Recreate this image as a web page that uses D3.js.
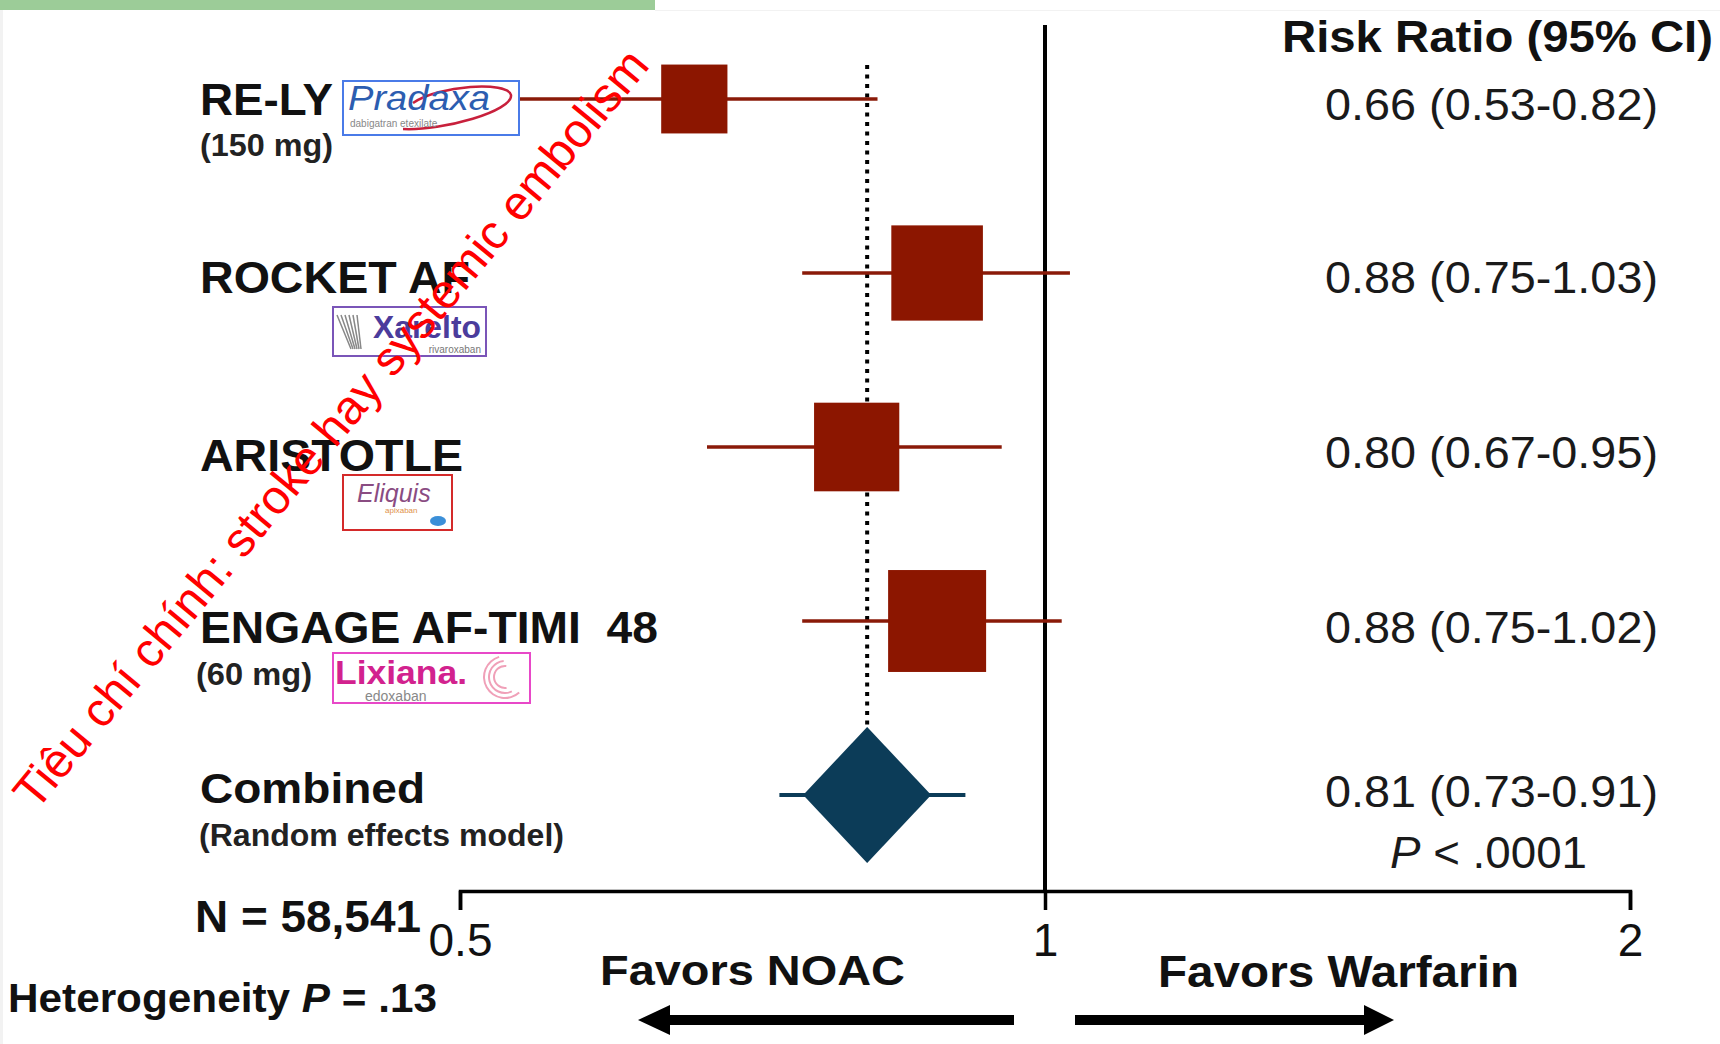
<!DOCTYPE html>
<html>
<head>
<meta charset="utf-8">
<script src="https://cdn.jsdelivr.net/npm/d3@7"></script>
<style>
  html, body { margin: 0; padding: 0; background: #fff; }
  svg { display: block; font-family: "Liberation Sans", Arial, sans-serif; }
</style>
</head>
<body>
<div id="chart"></div>
<script>
// data
const trials = ["RE-LY", "ROCKET AF", "ARISTOTLE", "ENGAGE AF-TIMI  48", "Combined"];
const subLabels = ["(150 mg)", "", "", "(60 mg)", "(Random effects model)"];
const riskRatio = [0.66, 0.88, 0.80, 0.88, 0.81];
const ciLower = [0.53, 0.75, 0.67, 0.75, 0.73];
const ciUpper = [0.82, 1.03, 0.95, 1.02, 0.91];
const weights = [14.8, 28.3, 24.5, 32.4];
const brands = ["Pradaxa", "Xarelto", "Eliquis", "Lixiana"];
const brandGeneric = ["dabigatran etexilate", "rivaroxaban", "apixaban", "edoxaban"];
const axisTicks = [0.5, 1, 2];
const overallP = ".0001";
const sampleSize = "58,541";
const heterogeneityP = ".13";

const W = 1720, H = 1044;
const svg = d3.select("#chart").append("svg").attr("width", W).attr("height", H);

const x = d3.scaleLog().base(2).domain([0.5, 2]).range([460, 1630]);
const y = d3.scaleLinear().domain([0, 4]).range([99, 795]);
const side = d3.scaleSqrt().domain([0, d3.max(weights)]).range([0, 98]);
const f2 = d3.format(".2f");

const squareColor = "#8c1600";
const diamondColor = "#0c3c58";
const axisY = 891;

// top strip
svg.append("rect").attr("x", 0).attr("y", 0).attr("width", 655).attr("height", 10).attr("fill", "#9ccc98");
svg.append("line").attr("x1", 655).attr("x2", W).attr("y1", 10.5).attr("y2", 10.5).attr("stroke", "#f2f2f2");
svg.append("line").attr("x1", 1.5).attr("x2", 1.5).attr("y1", 10).attr("y2", H).attr("stroke", "#f2f2f2").attr("stroke-width", 3);

// x axis (log scale)
const axis = svg.append("g")
    .attr("transform", `translate(0,${axisY})`)
    .call(d3.axisBottom(x).tickValues(axisTicks).tickFormat(d3.format("")).tickSize(19).tickSizeOuter(19).tickPadding(13));
axis.select(".domain").attr("stroke", "#000").attr("stroke-width", 3.5).attr("fill", "none");
axis.selectAll(".tick line").attr("stroke", "#000").attr("stroke-width", 3.5);
axis.selectAll(".tick text").attr("font-size", 46).attr("fill", "#111")
    .attr("font-family", "Liberation Sans, Arial, sans-serif");

// line of no effect and pooled estimate
svg.append("line")
    .attr("x1", x(1)).attr("x2", x(1)).attr("y1", 25).attr("y2", axisY)
    .attr("stroke", "#000").attr("stroke-width", 4);

const pooled = riskRatio[4];
svg.append("line")
    .attr("x1", x(pooled)).attr("x2", x(pooled)).attr("y1", 65).attr("y2", y(4) - 68)
    .attr("stroke", "#000").attr("stroke-width", 4).attr("stroke-dasharray", "4,5.5");

// trial rows
const rows = d3.range(4);
svg.selectAll("line.ci").data(rows).enter().append("line")
    .attr("class", "ci")
    .attr("x1", i => x(ciLower[i])).attr("x2", i => x(ciUpper[i]))
    .attr("y1", i => y(i)).attr("y2", i => y(i))
    .attr("stroke", "#8a1a08").attr("stroke-width", 3.5);

svg.selectAll("rect.sq").data(rows).enter().append("rect")
    .attr("class", "sq")
    .attr("x", i => x(riskRatio[i]) - side(weights[i]) / 2)
    .attr("y", i => y(i) - side(weights[i]) * 1.04 / 2)
    .attr("width", i => side(weights[i]))
    .attr("height", i => side(weights[i]) * 1.04)
    .attr("fill", squareColor);

// combined diamond
svg.append("line")
    .attr("x1", x(ciLower[4])).attr("x2", x(ciUpper[4]))
    .attr("y1", y(4)).attr("y2", y(4))
    .attr("stroke", diamondColor).attr("stroke-width", 4);
const cx = x(pooled), cy = y(4);
svg.append("path")
    .attr("d", `M${cx - 64},${cy} L${cx},${cy - 68} L${cx + 64},${cy} L${cx},${cy + 68} Z`)
    .attr("fill", diamondColor);

// left column labels
const nameY = [115, 293, 471, 643, 803];
const nameW = [133, 270, 263, 458, 225];
const subY = [156, 0, 0, 685, 846];
const subX = [200, 0, 0, 196, 199];
const subW = [133, 0, 0, 116, 365];

svg.selectAll("text.name").data(trials).enter().append("text")
    .attr("class", "name")
    .attr("x", 200).attr("y", (d, i) => nameY[i])
    .attr("font-size", (d, i) => i === 4 ? 42 : 45).attr("font-weight", "bold").attr("fill", "#111")
    .attr("textLength", (d, i) => nameW[i]).attr("lengthAdjust", "spacingAndGlyphs")
    .style("white-space", "pre")
    .text(d => d);

svg.selectAll("text.sub").data(subLabels.map((s, i) => ({ s, i })).filter(d => d.s)).enter().append("text")
    .attr("class", "sub")
    .attr("x", d => subX[d.i]).attr("y", d => subY[d.i])
    .attr("font-size", 31).attr("font-weight", "bold").attr("fill", "#222")
    .attr("textLength", d => subW[d.i]).attr("lengthAdjust", "spacingAndGlyphs")
    .text(d => d.s);

// right column values
svg.append("text").attr("x", 1282).attr("y", 52)
    .attr("font-size", 44).attr("font-weight", "bold").attr("fill", "#111")
    .attr("textLength", 431).attr("lengthAdjust", "spacingAndGlyphs")
    .text("Risk Ratio (95% CI)");

const valueY = [120, 293, 468, 643, 807];
svg.selectAll("text.val").data(riskRatio).enter().append("text")
    .attr("class", "val")
    .attr("x", 1325).attr("y", (d, i) => valueY[i])
    .attr("font-size", 45).attr("fill", "#1a1a1a")
    .attr("textLength", 333).attr("lengthAdjust", "spacingAndGlyphs")
    .text((d, i) => `${f2(d)} (${f2(ciLower[i])}-${f2(ciUpper[i])})`);

const pText = svg.append("text").attr("x", 1390).attr("y", 868)
    .attr("font-size", 44).attr("fill", "#1a1a1a")
    .attr("textLength", 197).attr("lengthAdjust", "spacingAndGlyphs");
pText.append("tspan").attr("font-style", "italic").text("P");
pText.append("tspan").text(" < " + overallP);

// bottom notes
svg.append("text").attr("x", 195).attr("y", 932)
    .attr("font-size", 44).attr("font-weight", "bold").attr("fill", "#111")
    .attr("textLength", 226).attr("lengthAdjust", "spacingAndGlyphs")
    .text("N = " + sampleSize);

const het = svg.append("text").attr("x", 8).attr("y", 1012)
    .attr("font-size", 41).attr("font-weight", "bold").attr("fill", "#111")
    .attr("textLength", 429).attr("lengthAdjust", "spacingAndGlyphs");
het.append("tspan").text("Heterogeneity ");
het.append("tspan").attr("font-style", "italic").text("P");
het.append("tspan").text(" = " + heterogeneityP);

svg.append("text").attr("x", 600).attr("y", 985)
    .attr("font-size", 43).attr("font-weight", "bold").attr("fill", "#111")
    .attr("textLength", 305).attr("lengthAdjust", "spacingAndGlyphs")
    .text("Favors NOAC");
svg.append("text").attr("x", 1158).attr("y", 987)
    .attr("font-size", 44).attr("font-weight", "bold").attr("fill", "#111")
    .attr("textLength", 361).attr("lengthAdjust", "spacingAndGlyphs")
    .text("Favors Warfarin");

// arrows
const arrowY = 1020;
svg.append("path")
    .attr("d", `M638,${arrowY} L670,${arrowY - 15} L670,${arrowY - 5} L1014,${arrowY - 5} L1014,${arrowY + 5} L670,${arrowY + 5} L670,${arrowY + 15} Z`)
    .attr("fill", "#000");
svg.append("path")
    .attr("d", `M1394,${arrowY} L1364,${arrowY - 15} L1364,${arrowY - 5} L1075,${arrowY - 5} L1075,${arrowY + 5} L1364,${arrowY + 5} L1364,${arrowY + 15} Z`)
    .attr("fill", "#000");

// drug logos (simplified)
const logoBox = [
  { x: 343, y: 81, w: 176, h: 54, stroke: "#4a7be8" },
  { x: 333, y: 307, w: 153, h: 49, stroke: "#7a55b8" },
  { x: 343, y: 475, w: 109, h: 55, stroke: "#d42a2a" },
  { x: 333, y: 653, w: 197, h: 50, stroke: "#e848c8" }
];
const logos = svg.selectAll("g.logo").data(brands).enter().append("g")
    .attr("class", "logo")
    .attr("transform", (d, i) => `translate(${logoBox[i].x},${logoBox[i].y})`);
logos.append("rect")
    .attr("width", (d, i) => logoBox[i].w).attr("height", (d, i) => logoBox[i].h)
    .attr("fill", "#fff").attr("stroke", (d, i) => logoBox[i].stroke).attr("stroke-width", 2);

// Pradaxa
const lp = logos.filter((d, i) => i === 0);
lp.append("path").attr("d", "M60,48 C100,50 170,30 168,14 C165,0 95,4 70,22")
    .attr("fill", "none").attr("stroke", "#c8203c").attr("stroke-width", 2.5);
lp.append("text").attr("x", 5).attr("y", 29).attr("font-size", 35).attr("font-style", "italic")
    .attr("textLength", 142).attr("lengthAdjust", "spacingAndGlyphs")
    .attr("fill", "#2c5db0").text(d => d);
lp.append("text").attr("x", 7).attr("y", 46).attr("font-size", 10).attr("fill", "#888")
    .text(brandGeneric[0]);

// Xarelto
const lx = logos.filter((d, i) => i === 1);
d3.range(6).forEach(k => {
  lx.append("line").attr("x1", 4 + k * 4).attr("y1", 8).attr("x2", 18 + k * 2).attr("y2", 42)
      .attr("stroke", "#888").attr("stroke-width", 1.5);
});
lx.append("text").attr("x", 40).attr("y", 31).attr("font-size", 31).attr("font-weight", "bold")
    .attr("textLength", 108).attr("lengthAdjust", "spacingAndGlyphs")
    .attr("fill", "#4b3c9c").text(d => d);
lx.append("text").attr("x", 148).attr("y", 46).attr("text-anchor", "end").attr("font-size", 10)
    .attr("fill", "#777").text(brandGeneric[1]);

// Eliquis
const le = logos.filter((d, i) => i === 2);
le.append("text").attr("x", 14).attr("y", 27).attr("font-size", 25).attr("font-style", "italic")
    .attr("fill", "#8a4c82").text(d => d);
le.append("text").attr("x", 42).attr("y", 38).attr("font-size", 8).attr("fill", "#e0904a").text(brandGeneric[2]);
le.append("ellipse").attr("cx", 95).attr("cy", 46).attr("rx", 8).attr("ry", 5).attr("fill", "#3b8fd8");

// Lixiana
const ll = logos.filter((d, i) => i === 3);
[22, 17, 12].forEach((r, k) => {
  ll.append("path")
      .attr("d", d3.arc()({ innerRadius: r - 2, outerRadius: r, startAngle: 2.4 + k * 0.3, endAngle: 6.0 + k * 0.2 }))
      .attr("transform", "translate(172,24)")
      .attr("fill", "#f0a0b8");
});
ll.append("text").attr("x", 2).attr("y", 31).attr("font-size", 34).attr("font-weight", "bold")
    .attr("textLength", 132).attr("lengthAdjust", "spacingAndGlyphs")
    .attr("fill", "#d2228e").text(d => d + ".");
ll.append("text").attr("x", 32).attr("y", 48).attr("font-size", 14).attr("fill", "#888").text(brandGeneric[3]);

// watermark
svg.append("text")
    .attr("transform", "translate(36,812) rotate(-50.5)")
    .attr("font-size", 48).attr("fill", "#ff0000")
    .text("Tiêu chí chính: stroke hay systemic embolism");
</script>
</body>
</html>
